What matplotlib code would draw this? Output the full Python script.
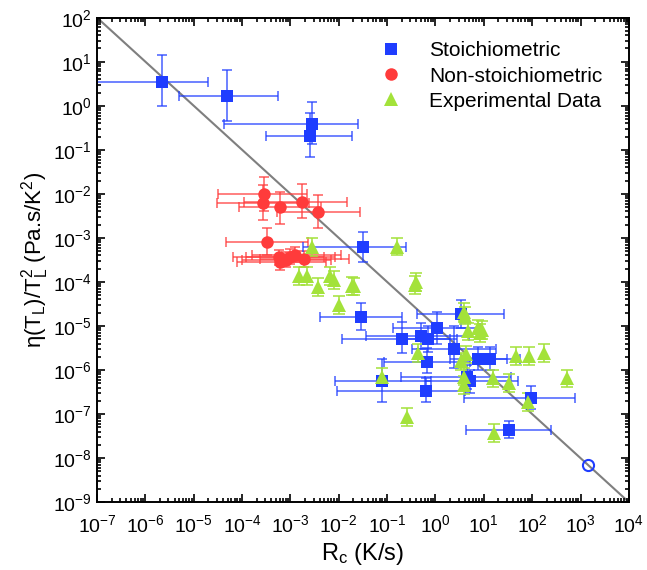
import matplotlib
matplotlib.use("Agg")
import matplotlib.pyplot as plt
import numpy as np
from matplotlib.ticker import LogLocator, NullFormatter

plt.rcParams["font.family"] = ["Liberation Sans", "DejaVu Sans"]
plt.rcParams["mathtext.fontset"] = "custom"
plt.rcParams["mathtext.rm"] = "Liberation Sans"
plt.rcParams["mathtext.it"] = "Liberation Sans:italic"
plt.rcParams["mathtext.default"] = "regular"

# Stoichiometric (blue squares)
stoi_x = [2.2e-6, 4.9e-5, 2.85e-3, 2.5e-3, 3.1e-2, 2.9e-2, 0.206, 0.51, 0.71, 1.07, 2.44,
          0.667, 0.079, 0.64, 4.4, 5.2, 7.65, 13.4, 92.7, 33.5, 3.4]
stoi_y = [3.5, 1.64, 0.386, 0.203, 6.2e-4, 1.6e-5, 5.1e-6, 6.0e-6, 5.1e-6, 9.0e-6, 3.0e-6,
          1.55e-6, 5.6e-7, 3.35e-7, 7.1e-7, 5.5e-7, 1.8e-6, 1.8e-6, 2.3e-7, 4.4e-8, 1.86e-5]
stoi_xlo = [5e-8, 4.85e-6, 4.3e-5, 3.1e-4, 1.86e-3, 4.1e-3, 1.17e-2, 3.7e-2, 0.18, 0.13, 0.32,
            0.087, 8.3e-3, 9.1e-3, 0.19, 0.6, 2.0, 3.3, 3.9, 4.3, 0.41]
stoi_xhi = [1.93e-5, 5.4e-4, 2.45e-2, 1.86e-2, 0.245, 0.206, 2.0, 5.0, 2.8, 8.5, 18,
            5.2, 0.8, 4.0, 37, 51, 30, 55, 760, 250, 26]
stoi_ylo = [1.0, 0.46, 0.136, 0.068, 2.9e-4, 8.1e-6, 2.4e-6, 3.0e-6, 2.6e-6, 4.0e-6, 1.1e-6,
            8.5e-7, 1.9e-7, 1.9e-7, 3.8e-7, 3.0e-7, 1.0e-6, 1.0e-6, 1.3e-7, 2.8e-8, 9.0e-6]
stoi_yhi = [14.2, 6.4, 1.24, 0.68, 1.39e-3, 3.4e-5, 1.26e-5, 1.2e-5, 1.0e-5, 2.1e-5, 9.8e-6,
            3.1e-6, 1.8e-6, 6.5e-7, 1.3e-6, 1.0e-6, 3.3e-6, 3.3e-6, 4.4e-7, 6.8e-8, 3.8e-5]

# Non-stoichiometric (red circles)
non_x = [2.9e-4, 2.7e-4, 6.0e-4, 1.75e-3, 3.8e-3, 3.35e-4,
         5.8e-4, 6.2e-4, 9.9e-4, 1.25e-3, 1.9e-3, 8.0e-4]
non_y = [9.8e-3, 6.3e-3, 4.9e-3, 6.6e-3, 3.9e-3, 8.1e-4,
         3.6e-4, 2.8e-4, 3.7e-4, 4.1e-4, 3.3e-4, 3.2e-4]
non_xlo = [3.2e-5, 3.0e-5, 8.5e-5, 1.1e-4, 5.2e-4, 4.7e-5,
           6.5e-5, 8.0e-5, 1.2e-4, 1.6e-4, 2.4e-4, 1.0e-4]
non_xhi = [2.2e-3, 2.4e-3, 4.3e-3, 1.5e-2, 2.75e-2, 2.3e-3,
           5.0e-3, 5.5e-3, 8.5e-3, 1.1e-2, 1.6e-2, 7.0e-3]
non_ylo = [4.0e-3, 2.6e-3, 2.1e-3, 2.9e-3, 1.7e-3, 4.0e-4,
           2.4e-4, 1.9e-4, 2.5e-4, 2.8e-4, 2.2e-4, 2.2e-4]
non_yhi = [2.45e-2, 1.55e-2, 1.1e-2, 1.7e-2, 9.5e-3, 1.66e-3,
           5.4e-4, 4.2e-4, 5.5e-4, 6.1e-4, 5.0e-4, 4.8e-4]

# Experimental data (green triangles)
exp_x = [2.8e-3, 1.5e-3, 2.2e-3, 3.8e-3, 6.6e-3, 7.8e-3, 1.9e-2, 2.1e-2, 1.0e-2, 0.158, 0.377,
         0.40, 3.9, 4.0, 4.6, 7.4, 9.0, 8.3, 0.44, 4.3, 3.4, 3.9, 3.8, 15.5, 33.5, 46, 87,
         174, 80, 16.4, 0.254, 0.079, 528]
exp_y = [6.2e-4, 1.37e-4, 1.37e-4, 7.6e-5, 1.37e-4, 1.1e-4, 8.1e-5, 7.9e-5, 2.95e-5, 6.3e-4,
         8.5e-5, 1.0e-4, 2.1e-5, 1.7e-5, 7.8e-6, 8.9e-6, 8.1e-6, 6.9e-6, 2.4e-6, 2.3e-6, 1.6e-6,
         7.1e-7, 4.6e-7, 6.5e-7, 5.1e-7, 2.1e-6, 2.1e-6, 2.4e-6, 1.9e-7, 3.7e-8, 8.7e-8, 7.1e-7,
         6.5e-7]
exp_ylo = [3.9e-4, 8.6e-5, 8.6e-5, 4.8e-5, 8.6e-5, 6.9e-5, 5.1e-5, 5.0e-5, 1.9e-5, 4.0e-4,
           5.4e-5, 6.3e-5, 1.3e-5, 1.1e-5, 4.9e-6, 5.6e-6, 5.1e-6, 4.4e-6, 1.5e-6, 1.45e-6,
           1.0e-6, 4.5e-7, 2.9e-7, 4.1e-7, 3.2e-7, 1.3e-6, 1.3e-6, 1.5e-6, 1.2e-7, 2.3e-8,
           5.5e-8, 4.5e-7, 4.1e-7]
exp_yhi = [9.8e-4, 2.2e-4, 2.2e-4, 1.2e-4, 2.2e-4, 1.75e-4, 1.3e-4, 1.25e-4, 4.7e-5, 1.0e-3,
           1.35e-4, 1.6e-4, 3.3e-5, 2.7e-5, 1.2e-5, 1.4e-5, 1.3e-5, 1.1e-5, 3.8e-6, 3.6e-6,
           2.5e-6, 1.1e-6, 7.3e-7, 1.0e-6, 8.1e-7, 3.3e-6, 3.3e-6, 3.8e-6, 3.0e-7, 5.9e-8,
           1.4e-7, 1.1e-6, 1.0e-6]

# fit line and predicted point
fit_x = [1e-7, 1e4]
fit_y = [1e2, 1e-9]
pred_x = [1.4e3]
pred_y = [7.0e-9]

BLUE = "#1f3dff"
RED = "#ff3b3b"
GREEN = "#a3e23a"


def errs(v, lo, hi):
    v = np.array(v)
    return [v - np.array(lo), np.array(hi) - v]


fig = plt.figure(figsize=(6.47, 5.70), dpi=100)
ax = fig.add_axes([0.150, 0.119, 0.822, 0.850])

ax.plot(fit_x, fit_y, color="#7f7f7f", lw=1.5, zorder=1)

ax.errorbar(non_x, non_y, xerr=errs(non_x, non_xlo, non_xhi),
            yerr=errs(non_y, non_ylo, non_yhi), fmt="none", ecolor=RED,
            elinewidth=1.3, capsize=3.5, capthick=1.3, alpha=0.7, zorder=2)
ax.errorbar(stoi_x, stoi_y, xerr=errs(stoi_x, stoi_xlo, stoi_xhi),
            yerr=errs(stoi_y, stoi_ylo, stoi_yhi), fmt="none", ecolor=BLUE,
            elinewidth=1.3, capsize=3.5, capthick=1.3, alpha=0.7, zorder=2)
ax.errorbar(exp_x, exp_y, yerr=errs(exp_y, exp_ylo, exp_yhi), fmt="none",
            ecolor=GREEN, elinewidth=1.3, capsize=4.5, capthick=1.3, alpha=0.85,
            zorder=2)

ax.plot(stoi_x, stoi_y, "s", color=BLUE, ms=8.5, mew=0, ls="none", zorder=3,
        label="Stoichiometric")
ax.plot(non_x, non_y, "o", color=RED, ms=9, mew=0, ls="none", zorder=3,
        label="Non-stoichiometric")
ax.plot(exp_x, exp_y, "^", color=GREEN, ms=10, mew=0, ls="none", zorder=3,
        label="Experimental Data")
ax.plot(pred_x, pred_y, "o", mfc="none", mec=BLUE, ms=8, mew=1.5, ls="none",
        zorder=3)

ax.set_xscale("log")
ax.set_yscale("log")
ax.set_xlim(1e-7, 1e4)
ax.set_ylim(1e-9, 1e2)
ax.xaxis.set_major_locator(LogLocator(base=10, numticks=20))
ax.yaxis.set_major_locator(LogLocator(base=10, numticks=20))
ax.xaxis.set_minor_locator(LogLocator(base=10, subs=np.arange(2, 10), numticks=20))
ax.yaxis.set_minor_locator(LogLocator(base=10, subs=np.arange(2, 10), numticks=20))
ax.xaxis.set_minor_formatter(NullFormatter())
ax.yaxis.set_minor_formatter(NullFormatter())
ax.tick_params(which="both", direction="in", top=True, right=True, width=1.2,
               labelsize=14)
ax.tick_params(which="major", length=6)
ax.tick_params(which="minor", length=3)
ax.tick_params(axis="x", which="major", pad=9)
ax.tick_params(axis="y", which="major", pad=4)
for s in ax.spines.values():
    s.set_linewidth(1.4)

ax.set_xlabel("R$_c$ (K/s)", fontsize=17, labelpad=3)
ax.set_ylabel(r"$\eta$(T$_L$)/T$_L^2$ (Pa.s/K$^2$)", fontsize=16, labelpad=1)

ax.legend(loc="upper right", frameon=False, fontsize=15, handletextpad=1.3,
          borderaxespad=0.5, labelspacing=0.3, handlelength=1.0,
          bbox_to_anchor=(0.985, 0.99))

fig.savefig("out.png", dpi=100)
